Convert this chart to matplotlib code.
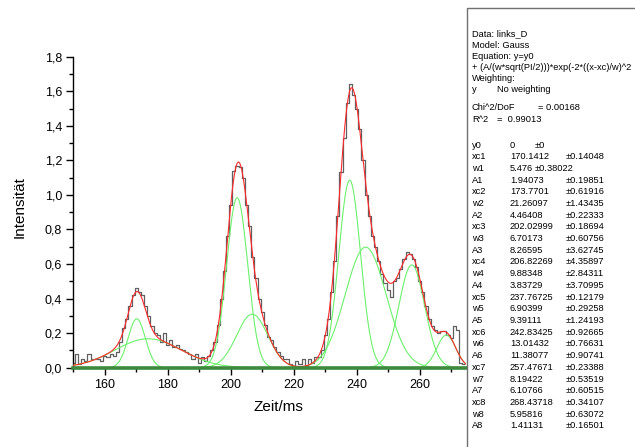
import matplotlib
matplotlib.use('Agg')
import matplotlib.pyplot as plt
import numpy as np
from matplotlib.ticker import MultipleLocator, FuncFormatter
from matplotlib.patches import Rectangle

plt.rcParams['font.family'] = ['Liberation Sans', 'DejaVu Sans']

# ---- data (histogram, 1 ms bins) ----
time_ms = np.arange(150, 275)
intensity = [
    0.03, 0.08, 0.02, 0.05, 0.04, 0.08, 0.05, 0.05, 0.05, 0.04,   # 150-159
    0.07, 0.06, 0.08, 0.07, 0.09, 0.15, 0.23, 0.28, 0.36, 0.42,   # 160-169
    0.46, 0.44, 0.42, 0.36, 0.30, 0.24, 0.20, 0.19, 0.15, 0.20,   # 170-179
    0.13, 0.16, 0.12, 0.13, 0.11, 0.10, 0.09, 0.08, 0.05, 0.08,   # 180-189
    0.03, 0.06, 0.04, 0.07, 0.10, 0.15, 0.25, 0.40, 0.56, 0.76,   # 190-199
    0.94, 1.14, 1.17, 1.16, 1.10, 0.94, 0.82, 0.64, 0.52, 0.40,   # 200-209
    0.32, 0.25, 0.18, 0.16, 0.12, 0.09, 0.07, 0.05, 0.05, 0.02,   # 210-219
    0.01, 0.04, 0.02, 0.05, 0.01, 0.05, 0.03, 0.06, 0.06, 0.10,   # 220-229
    0.19, 0.28, 0.44, 0.62, 0.88, 1.13, 1.33, 1.53, 1.64, 1.58,   # 230-239
    1.50, 1.38, 1.20, 1.00, 0.88, 0.76, 0.70, 0.62, 0.54, 0.49,   # 240-249
    0.45, 0.41, 0.50, 0.52, 0.57, 0.63, 0.67, 0.66, 0.63, 0.58,   # 250-259
    0.50, 0.44, 0.36, 0.28, 0.24, 0.22, 0.20, 0.21, 0.21, 0.19,   # 260-269
    0.17, 0.24, 0.22, 0.03, 0.02,                                 # 270-274
]

# ---- fit parameters (Gauss, 8 peaks) ----
y0 = 0.0
xc = [170.1412, 173.7701, 202.02999, 206.82269, 237.76725, 242.83425, 257.47671, 268.43718]
w = [5.476, 21.26097, 6.70173, 9.88348, 6.90399, 13.01432, 8.19422, 5.95816]
A = [1.94073, 4.46408, 8.26595, 3.83729, 9.39111, 11.38077, 6.10766, 1.41131]

header_lines = [
    "Data: links_D",
    "Model: Gauss",
    "Equation: y=y0",
    "+ (A/(w*sqrt(PI/2)))*exp(-2*((x-xc)/w)^2",
    "Weighting:",
]
param_rows = [
    ("y0", "0", "\u00b10"),
    ("xc1", "170.1412", "\u00b10.14048"),
    ("w1", "5.476", "\u00b10.38022"),
    ("A1", "1.94073", "\u00b10.19851"),
    ("xc2", "173.7701", "\u00b10.61916"),
    ("w2", "21.26097", "\u00b11.43435"),
    ("A2", "4.46408", "\u00b10.22333"),
    ("xc3", "202.02999", "\u00b10.18694"),
    ("w3", "6.70173", "\u00b10.60756"),
    ("A3", "8.26595", "\u00b13.62745"),
    ("xc4", "206.82269", "\u00b14.35897"),
    ("w4", "9.88348", "\u00b12.84311"),
    ("A4", "3.83729", "\u00b13.70995"),
    ("xc5", "237.76725", "\u00b10.12179"),
    ("w5", "6.90399", "\u00b10.29258"),
    ("A5", "9.39111", "\u00b11.24193"),
    ("xc6", "242.83425", "\u00b10.92665"),
    ("w6", "13.01432", "\u00b10.76631"),
    ("A6", "11.38077", "\u00b10.90741"),
    ("xc7", "257.47671", "\u00b10.23388"),
    ("w7", "8.19422", "\u00b10.53519"),
    ("A7", "6.10766", "\u00b10.60515"),
    ("xc8", "268.43718", "\u00b10.34107"),
    ("w8", "5.95816", "\u00b10.63072"),
    ("A8", "1.41131", "\u00b10.16501"),
]

W_PX, H_PX = 635, 447
fig = plt.figure(figsize=(W_PX / 100, H_PX / 100), dpi=100)
ax_l, ax_r, ax_t, ax_b = 73.3, 466.0, 56.7, 367.7
ax = fig.add_axes([ax_l / W_PX, 1 - ax_b / H_PX, (ax_r - ax_l) / W_PX, (ax_b - ax_t) / H_PX])

xx = np.linspace(150, 275, 1500)
comps = [a / (wi * np.sqrt(np.pi / 2)) * np.exp(-2 * ((xx - c) / wi) ** 2) for a, wi, c in zip(A, w, xc)]
total = y0 + np.sum(comps, axis=0)

ax.plot(time_ms, intensity, drawstyle='steps-mid', color='#606060', lw=0.9, zorder=2)
for comp in comps:
    ax.plot(xx, comp, color='#6cf06c', lw=0.8, zorder=3)
ax.plot(xx, total, color='#ff2a2a', lw=0.8, zorder=4)
ax.axhline(y0, color='#3d8a3d', lw=2.6, zorder=5, clip_on=False)

ax.set_xlim(150, 274.7)
ax.set_ylim(0, 1.8)
for s in ['top', 'right', 'bottom']:
    ax.spines[s].set_visible(False)
ax.spines['left'].set_linewidth(1.0)

ax.xaxis.set_major_locator(MultipleLocator(20))
ax.xaxis.set_minor_locator(MultipleLocator(10))
ax.yaxis.set_major_locator(MultipleLocator(0.2))
ax.yaxis.set_minor_locator(MultipleLocator(0.1))
ax.yaxis.set_major_formatter(FuncFormatter(lambda v, p: f"{v:.1f}".replace('.', ',')))
ax.tick_params(which='major', direction='out', length=5, width=1, labelsize=9, pad=3)
ax.tick_params(which='minor', direction='out', length=3, width=1)

def fx(px):
    return px / W_PX

def fy(py):
    return 1 - py / H_PX

fig.text(fx(20), fy(207), 'Intensität', rotation=90, ha='center', va='center', fontsize=11)
fig.text(fx(278), fy(407), 'Zeit/ms', ha='center', va='center', fontsize=11)

# text box
fig.patches.append(Rectangle((fx(466.5), -0.05), 0.5, fy(7.5) + 0.05, transform=fig.transFigure,
                             fill=False, edgecolor='#707070', lw=1.0))
fs = 6.7
col1, col2, col3a, col3b = 472, 510, 535, 566
y_start, dy = 34, 11.2
for i, line in enumerate(header_lines):
    fig.text(fx(col1), fy(y_start + i * dy), line, fontsize=fs, va='center', ha='left')
yy = y_start + 5 * dy
fig.text(fx(col1), fy(yy), 'y', fontsize=fs, va='center')
fig.text(fx(497), fy(yy), 'No weighting', fontsize=fs, va='center')
fig.text(fx(col1), fy(108), 'Chi^2/DoF', fontsize=fs, va='center')
fig.text(fx(538), fy(108), '= 0.00168', fontsize=fs, va='center')
fig.text(fx(col1), fy(119.5), 'R^2', fontsize=fs, va='center')
fig.text(fx(497), fy(119.5), '=  0.99013', fontsize=fs, va='center')

p_start, pdy = 145, 11.7
for i, (name, val, err) in enumerate(param_rows):
    ypx = p_start + i * pdy
    fig.text(fx(col1), fy(ypx), name, fontsize=fs, va='center')
    fig.text(fx(col2), fy(ypx), val, fontsize=fs, va='center')
    ex = col3a if name in ('y0', 'w1') else col3b
    fig.text(fx(ex), fy(ypx), err, fontsize=fs, va='center')

fig.savefig('out.png', dpi=100)
